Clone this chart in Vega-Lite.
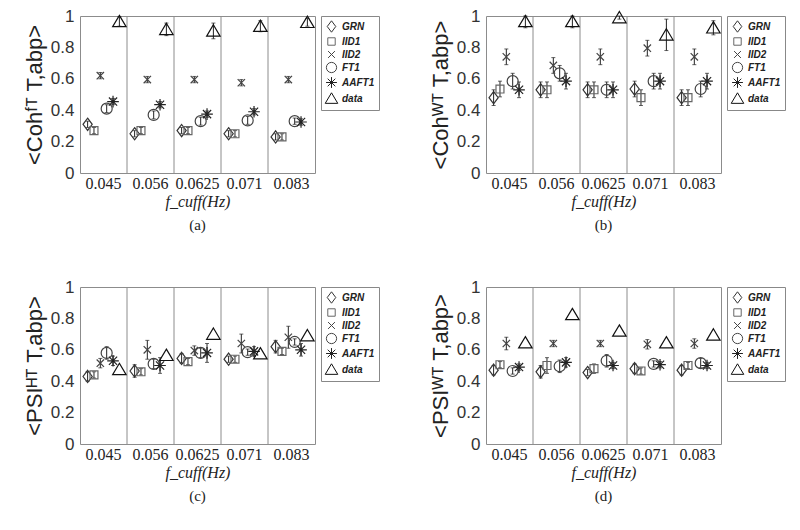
{
"$schema":"https://vega.github.io/schema/vega-lite/v6.json",
"padding":{"left":22,"top":6,"right":5,"bottom":5},
"datasets":{"pts":[
{"p":"a","f":"0.045","s":"GRN","v":0.31,"lo":0.29,"hi":0.33},
{"p":"a","f":"0.045","s":"IID1","v":0.27,"lo":0.25,"hi":0.29},
{"p":"a","f":"0.045","s":"IID2","v":0.62,"lo":0.6,"hi":0.64},
{"p":"a","f":"0.045","s":"FT1","v":0.41,"lo":0.385,"hi":0.435},
{"p":"a","f":"0.045","s":"AAFT1","v":0.455,"lo":0.435,"hi":0.475},
{"p":"a","f":"0.045","s":"data","v":0.965,"lo":0.935,"hi":0.995},
{"p":"a","f":"0.056","s":"GRN","v":0.25,"lo":0.23,"hi":0.27},
{"p":"a","f":"0.056","s":"IID1","v":0.27,"lo":0.25,"hi":0.29},
{"p":"a","f":"0.056","s":"IID2","v":0.595,"lo":0.575,"hi":0.615},
{"p":"a","f":"0.056","s":"FT1","v":0.37,"lo":0.345,"hi":0.395},
{"p":"a","f":"0.056","s":"AAFT1","v":0.435,"lo":0.415,"hi":0.455},
{"p":"a","f":"0.056","s":"data","v":0.915,"lo":0.875,"hi":0.955},
{"p":"a","f":"0.0625","s":"GRN","v":0.27,"lo":0.25,"hi":0.29},
{"p":"a","f":"0.0625","s":"IID1","v":0.27,"lo":0.25,"hi":0.29},
{"p":"a","f":"0.0625","s":"IID2","v":0.595,"lo":0.575,"hi":0.615},
{"p":"a","f":"0.0625","s":"FT1","v":0.33,"lo":0.305,"hi":0.355},
{"p":"a","f":"0.0625","s":"AAFT1","v":0.375,"lo":0.355,"hi":0.395},
{"p":"a","f":"0.0625","s":"data","v":0.905,"lo":0.855,"hi":0.955},
{"p":"a","f":"0.071","s":"GRN","v":0.25,"lo":0.23,"hi":0.27},
{"p":"a","f":"0.071","s":"IID1","v":0.25,"lo":0.23,"hi":0.27},
{"p":"a","f":"0.071","s":"IID2","v":0.575,"lo":0.555,"hi":0.595},
{"p":"a","f":"0.071","s":"FT1","v":0.335,"lo":0.31,"hi":0.36},
{"p":"a","f":"0.071","s":"AAFT1","v":0.39,"lo":0.37,"hi":0.41},
{"p":"a","f":"0.071","s":"data","v":0.935,"lo":0.9,"hi":0.97},
{"p":"a","f":"0.083","s":"GRN","v":0.23,"lo":0.21,"hi":0.25},
{"p":"a","f":"0.083","s":"IID1","v":0.23,"lo":0.21,"hi":0.25},
{"p":"a","f":"0.083","s":"IID2","v":0.595,"lo":0.575,"hi":0.615},
{"p":"a","f":"0.083","s":"FT1","v":0.33,"lo":0.31,"hi":0.35},
{"p":"a","f":"0.083","s":"AAFT1","v":0.325,"lo":0.305,"hi":0.345},
{"p":"a","f":"0.083","s":"data","v":0.96,"lo":0.935,"hi":0.985},
{"p":"b","f":"0.045","s":"GRN","v":0.48,"lo":0.43,"hi":0.53},
{"p":"b","f":"0.045","s":"IID1","v":0.535,"lo":0.485,"hi":0.585},
{"p":"b","f":"0.045","s":"IID2","v":0.74,"lo":0.69,"hi":0.79},
{"p":"b","f":"0.045","s":"FT1","v":0.585,"lo":0.535,"hi":0.635},
{"p":"b","f":"0.045","s":"AAFT1","v":0.53,"lo":0.48,"hi":0.58},
{"p":"b","f":"0.045","s":"data","v":0.965,"lo":0.925,"hi":1.0},
{"p":"b","f":"0.056","s":"GRN","v":0.53,"lo":0.48,"hi":0.58},
{"p":"b","f":"0.056","s":"IID1","v":0.53,"lo":0.48,"hi":0.58},
{"p":"b","f":"0.056","s":"IID2","v":0.685,"lo":0.635,"hi":0.735},
{"p":"b","f":"0.056","s":"FT1","v":0.635,"lo":0.585,"hi":0.685},
{"p":"b","f":"0.056","s":"AAFT1","v":0.585,"lo":0.535,"hi":0.635},
{"p":"b","f":"0.056","s":"data","v":0.965,"lo":0.925,"hi":1.0},
{"p":"b","f":"0.0625","s":"GRN","v":0.53,"lo":0.48,"hi":0.58},
{"p":"b","f":"0.0625","s":"IID1","v":0.53,"lo":0.48,"hi":0.58},
{"p":"b","f":"0.0625","s":"IID2","v":0.74,"lo":0.69,"hi":0.79},
{"p":"b","f":"0.0625","s":"FT1","v":0.53,"lo":0.48,"hi":0.58},
{"p":"b","f":"0.0625","s":"AAFT1","v":0.53,"lo":0.48,"hi":0.58},
{"p":"b","f":"0.0625","s":"data","v":0.99,"lo":0.98,"hi":1.0},
{"p":"b","f":"0.071","s":"GRN","v":0.535,"lo":0.485,"hi":0.585},
{"p":"b","f":"0.071","s":"IID1","v":0.48,"lo":0.43,"hi":0.53},
{"p":"b","f":"0.071","s":"IID2","v":0.795,"lo":0.745,"hi":0.845},
{"p":"b","f":"0.071","s":"FT1","v":0.585,"lo":0.535,"hi":0.635},
{"p":"b","f":"0.071","s":"AAFT1","v":0.585,"lo":0.535,"hi":0.635},
{"p":"b","f":"0.071","s":"data","v":0.88,"lo":0.78,"hi":0.98},
{"p":"b","f":"0.083","s":"GRN","v":0.48,"lo":0.43,"hi":0.53},
{"p":"b","f":"0.083","s":"IID1","v":0.48,"lo":0.43,"hi":0.53},
{"p":"b","f":"0.083","s":"IID2","v":0.74,"lo":0.69,"hi":0.79},
{"p":"b","f":"0.083","s":"FT1","v":0.535,"lo":0.485,"hi":0.585},
{"p":"b","f":"0.083","s":"AAFT1","v":0.585,"lo":0.535,"hi":0.635},
{"p":"b","f":"0.083","s":"data","v":0.925,"lo":0.88,"hi":0.97},
{"p":"c","f":"0.045","s":"GRN","v":0.43,"lo":0.4,"hi":0.46},
{"p":"c","f":"0.045","s":"IID1","v":0.44,"lo":0.42,"hi":0.46},
{"p":"c","f":"0.045","s":"IID2","v":0.515,"lo":0.485,"hi":0.545},
{"p":"c","f":"0.045","s":"FT1","v":0.58,"lo":0.54,"hi":0.62},
{"p":"c","f":"0.045","s":"AAFT1","v":0.53,"lo":0.5,"hi":0.56},
{"p":"c","f":"0.045","s":"data","v":0.475,"lo":0.475,"hi":0.475},
{"p":"c","f":"0.056","s":"GRN","v":0.465,"lo":0.425,"hi":0.505},
{"p":"c","f":"0.056","s":"IID1","v":0.46,"lo":0.44,"hi":0.48},
{"p":"c","f":"0.056","s":"IID2","v":0.6,"lo":0.54,"hi":0.66},
{"p":"c","f":"0.056","s":"FT1","v":0.51,"lo":0.48,"hi":0.54},
{"p":"c","f":"0.056","s":"AAFT1","v":0.5,"lo":0.45,"hi":0.55},
{"p":"c","f":"0.056","s":"data","v":0.565,"lo":0.565,"hi":0.565},
{"p":"c","f":"0.0625","s":"GRN","v":0.545,"lo":0.515,"hi":0.575},
{"p":"c","f":"0.0625","s":"IID1","v":0.525,"lo":0.505,"hi":0.545},
{"p":"c","f":"0.0625","s":"IID2","v":0.595,"lo":0.565,"hi":0.625},
{"p":"c","f":"0.0625","s":"FT1","v":0.58,"lo":0.55,"hi":0.61},
{"p":"c","f":"0.0625","s":"AAFT1","v":0.58,"lo":0.52,"hi":0.64},
{"p":"c","f":"0.0625","s":"data","v":0.7,"lo":0.7,"hi":0.7},
{"p":"c","f":"0.071","s":"GRN","v":0.54,"lo":0.52,"hi":0.56},
{"p":"c","f":"0.071","s":"IID1","v":0.54,"lo":0.52,"hi":0.56},
{"p":"c","f":"0.071","s":"IID2","v":0.64,"lo":0.58,"hi":0.7},
{"p":"c","f":"0.071","s":"FT1","v":0.585,"lo":0.565,"hi":0.605},
{"p":"c","f":"0.071","s":"AAFT1","v":0.59,"lo":0.56,"hi":0.62},
{"p":"c","f":"0.071","s":"data","v":0.575,"lo":0.575,"hi":0.575},
{"p":"c","f":"0.083","s":"GRN","v":0.62,"lo":0.58,"hi":0.66},
{"p":"c","f":"0.083","s":"IID1","v":0.59,"lo":0.57,"hi":0.61},
{"p":"c","f":"0.083","s":"IID2","v":0.68,"lo":0.61,"hi":0.75},
{"p":"c","f":"0.083","s":"FT1","v":0.65,"lo":0.63,"hi":0.67},
{"p":"c","f":"0.083","s":"AAFT1","v":0.6,"lo":0.56,"hi":0.64},
{"p":"c","f":"0.083","s":"data","v":0.69,"lo":0.69,"hi":0.69},
{"p":"d","f":"0.045","s":"GRN","v":0.47,"lo":0.44,"hi":0.5},
{"p":"d","f":"0.045","s":"IID1","v":0.505,"lo":0.485,"hi":0.525},
{"p":"d","f":"0.045","s":"IID2","v":0.64,"lo":0.6,"hi":0.68},
{"p":"d","f":"0.045","s":"FT1","v":0.465,"lo":0.445,"hi":0.485},
{"p":"d","f":"0.045","s":"AAFT1","v":0.49,"lo":0.47,"hi":0.51},
{"p":"d","f":"0.045","s":"data","v":0.645,"lo":0.645,"hi":0.645},
{"p":"d","f":"0.056","s":"GRN","v":0.46,"lo":0.42,"hi":0.5},
{"p":"d","f":"0.056","s":"IID1","v":0.5,"lo":0.45,"hi":0.55},
{"p":"d","f":"0.056","s":"IID2","v":0.64,"lo":0.62,"hi":0.66},
{"p":"d","f":"0.056","s":"FT1","v":0.495,"lo":0.455,"hi":0.535},
{"p":"d","f":"0.056","s":"AAFT1","v":0.52,"lo":0.49,"hi":0.55},
{"p":"d","f":"0.056","s":"data","v":0.825,"lo":0.825,"hi":0.825},
{"p":"d","f":"0.0625","s":"GRN","v":0.455,"lo":0.435,"hi":0.475},
{"p":"d","f":"0.0625","s":"IID1","v":0.48,"lo":0.45,"hi":0.51},
{"p":"d","f":"0.0625","s":"IID2","v":0.64,"lo":0.62,"hi":0.66},
{"p":"d","f":"0.0625","s":"FT1","v":0.53,"lo":0.49,"hi":0.57},
{"p":"d","f":"0.0625","s":"AAFT1","v":0.5,"lo":0.48,"hi":0.52},
{"p":"d","f":"0.0625","s":"data","v":0.72,"lo":0.72,"hi":0.72},
{"p":"d","f":"0.071","s":"GRN","v":0.48,"lo":0.45,"hi":0.51},
{"p":"d","f":"0.071","s":"IID1","v":0.465,"lo":0.445,"hi":0.485},
{"p":"d","f":"0.071","s":"IID2","v":0.635,"lo":0.605,"hi":0.665},
{"p":"d","f":"0.071","s":"FT1","v":0.51,"lo":0.49,"hi":0.53},
{"p":"d","f":"0.071","s":"AAFT1","v":0.505,"lo":0.485,"hi":0.525},
{"p":"d","f":"0.071","s":"data","v":0.645,"lo":0.645,"hi":0.645},
{"p":"d","f":"0.083","s":"GRN","v":0.47,"lo":0.44,"hi":0.5},
{"p":"d","f":"0.083","s":"IID1","v":0.5,"lo":0.48,"hi":0.52},
{"p":"d","f":"0.083","s":"IID2","v":0.64,"lo":0.61,"hi":0.67},
{"p":"d","f":"0.083","s":"FT1","v":0.515,"lo":0.485,"hi":0.545},
{"p":"d","f":"0.083","s":"AAFT1","v":0.5,"lo":0.48,"hi":0.52},
{"p":"d","f":"0.083","s":"data","v":0.695,"lo":0.695,"hi":0.695}
]},
"config":{
"view":{"stroke":"#8c8c8c","strokeWidth":1},
"axis":{"grid":false,"domain":false,"ticks":false},
"axisY":{"labelFont":"Liberation Sans","labelFontSize":17,"labelColor":"#333","titleFont":"Liberation Sans","titleFontSize":22,"titleFontWeight":"normal","titleColor":"#222","labelPadding":6,"titlePadding":4},
"legend":{"orient":"right","offset":6,"padding":4,"rowPadding":0,"strokeColor":"#888","symbolSize":130,"symbolStrokeWidth":1,"labelFont":"Liberation Sans","labelFontSize":10,"labelFontStyle":"italic","labelFontWeight":"bold","labelColor":"#222","labelOffset":4},
"title":{"font":"Liberation Serif","fontSize":15,"fontWeight":"normal","orient":"bottom","anchor":"middle","frame":"group","offset":9,"color":"#222"}
},
"resolve":{"scale":{"x":"independent","y":"independent","xOffset":"independent","color":"independent","shape":"independent"}},
"spacing":43,
"vconcat":[
{"hconcat":[
{"width":235,"height":157,"title":"(a)","data":{"name":"pts"},"transform":[{"filter":"datum.p==='a'"}],
"layer":[
{"transform":[{"filter":"datum.s==='GRN' && datum.f!=='0.045'"}],"mark":{"type":"rule","color":"#8c8c8c","strokeWidth":1},
"encoding":{"x":{"field":"f","type":"nominal","bandPosition":0,"sort":["0.045","0.056","0.0625","0.071","0.083"],"scale":{"paddingInner":0,"paddingOuter":0},"axis":{"title":"f_cuff(Hz)","labelFont":"Liberation Serif, DejaVu Serif","labelFontSize":16,"labelColor":"#222","labelPadding":2,"labelAngle":0,"titleFont":"Liberation Serif, DejaVu Serif","titleFontStyle":"italic","titleFontSize":16,"titleFontWeight":"normal","titleColor":"#222","titlePadding":2}}}},
{"mark":{"type":"rule","color":"#222","strokeWidth":1},
"encoding":{"x":{"field":"f","type":"nominal","sort":["0.045","0.056","0.0625","0.071","0.083"],"scale":{"paddingInner":0,"paddingOuter":0},"axis":{"title":"f_cuff(Hz)","labelFont":"Liberation Serif, DejaVu Serif","labelFontSize":16,"labelColor":"#222","labelPadding":2,"labelAngle":0,"titleFont":"Liberation Serif, DejaVu Serif","titleFontStyle":"italic","titleFontSize":16,"titleFontWeight":"normal","titleColor":"#222","titlePadding":2}},
"xOffset":{"field":"s","type":"nominal","sort":["GRN","IID1","IID2","FT1","AAFT1","data"],"scale":{"paddingInner":0,"paddingOuter":0.7}},
"y":{"field":"lo","type":"quantitative","scale":{"domain":[0,1]},"axis":{"values":[0,0.2,0.4,0.6,0.8,1],"format":"~g"},"title":"<Cohᶠᵀ T,abp>"},"y2":{"field":"hi"}}},
{"transform":[{"filter":"datum.hi>datum.lo"}],"mark":{"type":"tick","color":"#222","size":4,"thickness":1},
"encoding":{"x":{"field":"f","type":"nominal","sort":["0.045","0.056","0.0625","0.071","0.083"],"scale":{"paddingInner":0,"paddingOuter":0},"axis":{"title":"f_cuff(Hz)","labelFont":"Liberation Serif, DejaVu Serif","labelFontSize":16,"labelColor":"#222","labelPadding":2,"labelAngle":0,"titleFont":"Liberation Serif, DejaVu Serif","titleFontStyle":"italic","titleFontSize":16,"titleFontWeight":"normal","titleColor":"#222","titlePadding":2}},
"xOffset":{"field":"s","type":"nominal","sort":["GRN","IID1","IID2","FT1","AAFT1","data"],"scale":{"paddingInner":0,"paddingOuter":0.7}},
"y":{"field":"lo","type":"quantitative","scale":{"domain":[0,1]},"axis":{"values":[0,0.2,0.4,0.6,0.8,1],"format":"~g"},"title":"<Cohᶠᵀ T,abp>"}}},
{"transform":[{"filter":"datum.hi>datum.lo"}],"mark":{"type":"tick","color":"#222","size":4,"thickness":1},
"encoding":{"x":{"field":"f","type":"nominal","sort":["0.045","0.056","0.0625","0.071","0.083"],"scale":{"paddingInner":0,"paddingOuter":0},"axis":{"title":"f_cuff(Hz)","labelFont":"Liberation Serif, DejaVu Serif","labelFontSize":16,"labelColor":"#222","labelPadding":2,"labelAngle":0,"titleFont":"Liberation Serif, DejaVu Serif","titleFontStyle":"italic","titleFontSize":16,"titleFontWeight":"normal","titleColor":"#222","titlePadding":2}},
"xOffset":{"field":"s","type":"nominal","sort":["GRN","IID1","IID2","FT1","AAFT1","data"],"scale":{"paddingInner":0,"paddingOuter":0.7}},
"y":{"field":"hi","type":"quantitative","scale":{"domain":[0,1]},"axis":{"values":[0,0.2,0.4,0.6,0.8,1],"format":"~g"},"title":"<Cohᶠᵀ T,abp>"}}},
{"mark":{"type":"point","filled":false,"strokeWidth":1.2,"opacity":1,"size":150},
"encoding":{"x":{"field":"f","type":"nominal","sort":["0.045","0.056","0.0625","0.071","0.083"],"scale":{"paddingInner":0,"paddingOuter":0},"axis":{"title":"f_cuff(Hz)","labelFont":"Liberation Serif, DejaVu Serif","labelFontSize":16,"labelColor":"#222","labelPadding":2,"labelAngle":0,"titleFont":"Liberation Serif, DejaVu Serif","titleFontStyle":"italic","titleFontSize":16,"titleFontWeight":"normal","titleColor":"#222","titlePadding":2}},
"xOffset":{"field":"s","type":"nominal","sort":["GRN","IID1","IID2","FT1","AAFT1","data"],"scale":{"paddingInner":0,"paddingOuter":0.7}},
"y":{"field":"v","type":"quantitative","scale":{"domain":[0,1]},"axis":{"values":[0,0.2,0.4,0.6,0.8,1],"format":"~g"},"title":"<Cohᶠᵀ T,abp>"},
"shape":{"field":"s","type":"nominal","sort":["GRN","IID1","IID2","FT1","AAFT1","data"],"scale":{"domain":["GRN","IID1","IID2","FT1","AAFT1","data"],"range":["M0,-1L0.75,0L0,1L-0.75,0Z","M-0.65,-0.65H0.65V0.65H-0.65Z","M-0.6,-0.6L0.6,0.6M-0.6,0.6L0.6,-0.6","M-0.9,0A0.9,0.9,0,1,1,0.9,0A0.9,0.9,0,1,1,-0.9,0Z","M0,-0.95V0.95M-0.95,0H0.95M-0.67,-0.67L0.67,0.67M-0.67,0.67L0.67,-0.67","M0,-1L1.1,0.85L-1.1,0.85Z"]},"legend":{"title":null}},
"color":{"field":"s","type":"nominal","sort":["GRN","IID1","IID2","FT1","AAFT1","data"],"scale":{"domain":["GRN","IID1","IID2","FT1","AAFT1","data"],"range":["#333","#666","#444","#444","#222","#111"]},"legend":{"title":null}}}}
]},
{"width":235,"height":157,"title":"(b)","data":{"name":"pts"},"transform":[{"filter":"datum.p==='b'"}],
"layer":[
{"transform":[{"filter":"datum.s==='GRN' && datum.f!=='0.045'"}],"mark":{"type":"rule","color":"#8c8c8c","strokeWidth":1},
"encoding":{"x":{"field":"f","type":"nominal","bandPosition":0,"sort":["0.045","0.056","0.0625","0.071","0.083"],"scale":{"paddingInner":0,"paddingOuter":0},"axis":{"title":"f_cuff(Hz)","labelFont":"Liberation Serif, DejaVu Serif","labelFontSize":16,"labelColor":"#222","labelPadding":2,"labelAngle":0,"titleFont":"Liberation Serif, DejaVu Serif","titleFontStyle":"italic","titleFontSize":16,"titleFontWeight":"normal","titleColor":"#222","titlePadding":2}}}},
{"mark":{"type":"rule","color":"#222","strokeWidth":1},
"encoding":{"x":{"field":"f","type":"nominal","sort":["0.045","0.056","0.0625","0.071","0.083"],"scale":{"paddingInner":0,"paddingOuter":0},"axis":{"title":"f_cuff(Hz)","labelFont":"Liberation Serif, DejaVu Serif","labelFontSize":16,"labelColor":"#222","labelPadding":2,"labelAngle":0,"titleFont":"Liberation Serif, DejaVu Serif","titleFontStyle":"italic","titleFontSize":16,"titleFontWeight":"normal","titleColor":"#222","titlePadding":2}},
"xOffset":{"field":"s","type":"nominal","sort":["GRN","IID1","IID2","FT1","AAFT1","data"],"scale":{"paddingInner":0,"paddingOuter":0.7}},
"y":{"field":"lo","type":"quantitative","scale":{"domain":[0,1]},"axis":{"values":[0,0.2,0.4,0.6,0.8,1],"format":"~g"},"title":"<Cohᵂᵀ T,abp>"},"y2":{"field":"hi"}}},
{"transform":[{"filter":"datum.hi>datum.lo"}],"mark":{"type":"tick","color":"#222","size":4,"thickness":1},
"encoding":{"x":{"field":"f","type":"nominal","sort":["0.045","0.056","0.0625","0.071","0.083"],"scale":{"paddingInner":0,"paddingOuter":0},"axis":{"title":"f_cuff(Hz)","labelFont":"Liberation Serif, DejaVu Serif","labelFontSize":16,"labelColor":"#222","labelPadding":2,"labelAngle":0,"titleFont":"Liberation Serif, DejaVu Serif","titleFontStyle":"italic","titleFontSize":16,"titleFontWeight":"normal","titleColor":"#222","titlePadding":2}},
"xOffset":{"field":"s","type":"nominal","sort":["GRN","IID1","IID2","FT1","AAFT1","data"],"scale":{"paddingInner":0,"paddingOuter":0.7}},
"y":{"field":"lo","type":"quantitative","scale":{"domain":[0,1]},"axis":{"values":[0,0.2,0.4,0.6,0.8,1],"format":"~g"},"title":"<Cohᵂᵀ T,abp>"}}},
{"transform":[{"filter":"datum.hi>datum.lo"}],"mark":{"type":"tick","color":"#222","size":4,"thickness":1},
"encoding":{"x":{"field":"f","type":"nominal","sort":["0.045","0.056","0.0625","0.071","0.083"],"scale":{"paddingInner":0,"paddingOuter":0},"axis":{"title":"f_cuff(Hz)","labelFont":"Liberation Serif, DejaVu Serif","labelFontSize":16,"labelColor":"#222","labelPadding":2,"labelAngle":0,"titleFont":"Liberation Serif, DejaVu Serif","titleFontStyle":"italic","titleFontSize":16,"titleFontWeight":"normal","titleColor":"#222","titlePadding":2}},
"xOffset":{"field":"s","type":"nominal","sort":["GRN","IID1","IID2","FT1","AAFT1","data"],"scale":{"paddingInner":0,"paddingOuter":0.7}},
"y":{"field":"hi","type":"quantitative","scale":{"domain":[0,1]},"axis":{"values":[0,0.2,0.4,0.6,0.8,1],"format":"~g"},"title":"<Cohᵂᵀ T,abp>"}}},
{"mark":{"type":"point","filled":false,"strokeWidth":1.2,"opacity":1,"size":150},
"encoding":{"x":{"field":"f","type":"nominal","sort":["0.045","0.056","0.0625","0.071","0.083"],"scale":{"paddingInner":0,"paddingOuter":0},"axis":{"title":"f_cuff(Hz)","labelFont":"Liberation Serif, DejaVu Serif","labelFontSize":16,"labelColor":"#222","labelPadding":2,"labelAngle":0,"titleFont":"Liberation Serif, DejaVu Serif","titleFontStyle":"italic","titleFontSize":16,"titleFontWeight":"normal","titleColor":"#222","titlePadding":2}},
"xOffset":{"field":"s","type":"nominal","sort":["GRN","IID1","IID2","FT1","AAFT1","data"],"scale":{"paddingInner":0,"paddingOuter":0.7}},
"y":{"field":"v","type":"quantitative","scale":{"domain":[0,1]},"axis":{"values":[0,0.2,0.4,0.6,0.8,1],"format":"~g"},"title":"<Cohᵂᵀ T,abp>"},
"shape":{"field":"s","type":"nominal","sort":["GRN","IID1","IID2","FT1","AAFT1","data"],"scale":{"domain":["GRN","IID1","IID2","FT1","AAFT1","data"],"range":["M0,-1L0.75,0L0,1L-0.75,0Z","M-0.65,-0.65H0.65V0.65H-0.65Z","M-0.6,-0.6L0.6,0.6M-0.6,0.6L0.6,-0.6","M-0.9,0A0.9,0.9,0,1,1,0.9,0A0.9,0.9,0,1,1,-0.9,0Z","M0,-0.95V0.95M-0.95,0H0.95M-0.67,-0.67L0.67,0.67M-0.67,0.67L0.67,-0.67","M0,-1L1.1,0.85L-1.1,0.85Z"]},"legend":{"title":null}},
"color":{"field":"s","type":"nominal","sort":["GRN","IID1","IID2","FT1","AAFT1","data"],"scale":{"domain":["GRN","IID1","IID2","FT1","AAFT1","data"],"range":["#333","#666","#444","#444","#222","#111"]},"legend":{"title":null}}}}
]}
],"spacing":48,"resolve":{"scale":{"x":"independent","y":"independent","xOffset":"independent","color":"independent","shape":"independent"}}},
{"hconcat":[
{"width":235,"height":157,"title":"(c)","data":{"name":"pts"},"transform":[{"filter":"datum.p==='c'"}],
"layer":[
{"transform":[{"filter":"datum.s==='GRN' && datum.f!=='0.045'"}],"mark":{"type":"rule","color":"#8c8c8c","strokeWidth":1},
"encoding":{"x":{"field":"f","type":"nominal","bandPosition":0,"sort":["0.045","0.056","0.0625","0.071","0.083"],"scale":{"paddingInner":0,"paddingOuter":0},"axis":{"title":"f_cuff(Hz)","labelFont":"Liberation Serif, DejaVu Serif","labelFontSize":16,"labelColor":"#222","labelPadding":2,"labelAngle":0,"titleFont":"Liberation Serif, DejaVu Serif","titleFontStyle":"italic","titleFontSize":16,"titleFontWeight":"normal","titleColor":"#222","titlePadding":2}}}},
{"mark":{"type":"rule","color":"#222","strokeWidth":1},
"encoding":{"x":{"field":"f","type":"nominal","sort":["0.045","0.056","0.0625","0.071","0.083"],"scale":{"paddingInner":0,"paddingOuter":0},"axis":{"title":"f_cuff(Hz)","labelFont":"Liberation Serif, DejaVu Serif","labelFontSize":16,"labelColor":"#222","labelPadding":2,"labelAngle":0,"titleFont":"Liberation Serif, DejaVu Serif","titleFontStyle":"italic","titleFontSize":16,"titleFontWeight":"normal","titleColor":"#222","titlePadding":2}},
"xOffset":{"field":"s","type":"nominal","sort":["GRN","IID1","IID2","FT1","AAFT1","data"],"scale":{"paddingInner":0,"paddingOuter":0.7}},
"y":{"field":"lo","type":"quantitative","scale":{"domain":[0,1]},"axis":{"values":[0,0.2,0.4,0.6,0.8,1],"format":"~g"},"title":"<PSIᴴᵀ T,abp>"},"y2":{"field":"hi"}}},
{"transform":[{"filter":"datum.hi>datum.lo"}],"mark":{"type":"tick","color":"#222","size":4,"thickness":1},
"encoding":{"x":{"field":"f","type":"nominal","sort":["0.045","0.056","0.0625","0.071","0.083"],"scale":{"paddingInner":0,"paddingOuter":0},"axis":{"title":"f_cuff(Hz)","labelFont":"Liberation Serif, DejaVu Serif","labelFontSize":16,"labelColor":"#222","labelPadding":2,"labelAngle":0,"titleFont":"Liberation Serif, DejaVu Serif","titleFontStyle":"italic","titleFontSize":16,"titleFontWeight":"normal","titleColor":"#222","titlePadding":2}},
"xOffset":{"field":"s","type":"nominal","sort":["GRN","IID1","IID2","FT1","AAFT1","data"],"scale":{"paddingInner":0,"paddingOuter":0.7}},
"y":{"field":"lo","type":"quantitative","scale":{"domain":[0,1]},"axis":{"values":[0,0.2,0.4,0.6,0.8,1],"format":"~g"},"title":"<PSIᴴᵀ T,abp>"}}},
{"transform":[{"filter":"datum.hi>datum.lo"}],"mark":{"type":"tick","color":"#222","size":4,"thickness":1},
"encoding":{"x":{"field":"f","type":"nominal","sort":["0.045","0.056","0.0625","0.071","0.083"],"scale":{"paddingInner":0,"paddingOuter":0},"axis":{"title":"f_cuff(Hz)","labelFont":"Liberation Serif, DejaVu Serif","labelFontSize":16,"labelColor":"#222","labelPadding":2,"labelAngle":0,"titleFont":"Liberation Serif, DejaVu Serif","titleFontStyle":"italic","titleFontSize":16,"titleFontWeight":"normal","titleColor":"#222","titlePadding":2}},
"xOffset":{"field":"s","type":"nominal","sort":["GRN","IID1","IID2","FT1","AAFT1","data"],"scale":{"paddingInner":0,"paddingOuter":0.7}},
"y":{"field":"hi","type":"quantitative","scale":{"domain":[0,1]},"axis":{"values":[0,0.2,0.4,0.6,0.8,1],"format":"~g"},"title":"<PSIᴴᵀ T,abp>"}}},
{"mark":{"type":"point","filled":false,"strokeWidth":1.2,"opacity":1,"size":150},
"encoding":{"x":{"field":"f","type":"nominal","sort":["0.045","0.056","0.0625","0.071","0.083"],"scale":{"paddingInner":0,"paddingOuter":0},"axis":{"title":"f_cuff(Hz)","labelFont":"Liberation Serif, DejaVu Serif","labelFontSize":16,"labelColor":"#222","labelPadding":2,"labelAngle":0,"titleFont":"Liberation Serif, DejaVu Serif","titleFontStyle":"italic","titleFontSize":16,"titleFontWeight":"normal","titleColor":"#222","titlePadding":2}},
"xOffset":{"field":"s","type":"nominal","sort":["GRN","IID1","IID2","FT1","AAFT1","data"],"scale":{"paddingInner":0,"paddingOuter":0.7}},
"y":{"field":"v","type":"quantitative","scale":{"domain":[0,1]},"axis":{"values":[0,0.2,0.4,0.6,0.8,1],"format":"~g"},"title":"<PSIᴴᵀ T,abp>"},
"shape":{"field":"s","type":"nominal","sort":["GRN","IID1","IID2","FT1","AAFT1","data"],"scale":{"domain":["GRN","IID1","IID2","FT1","AAFT1","data"],"range":["M0,-1L0.75,0L0,1L-0.75,0Z","M-0.65,-0.65H0.65V0.65H-0.65Z","M-0.6,-0.6L0.6,0.6M-0.6,0.6L0.6,-0.6","M-0.9,0A0.9,0.9,0,1,1,0.9,0A0.9,0.9,0,1,1,-0.9,0Z","M0,-0.95V0.95M-0.95,0H0.95M-0.67,-0.67L0.67,0.67M-0.67,0.67L0.67,-0.67","M0,-1L1.1,0.85L-1.1,0.85Z"]},"legend":{"title":null}},
"color":{"field":"s","type":"nominal","sort":["GRN","IID1","IID2","FT1","AAFT1","data"],"scale":{"domain":["GRN","IID1","IID2","FT1","AAFT1","data"],"range":["#333","#666","#444","#444","#222","#111"]},"legend":{"title":null}}}}
]},
{"width":235,"height":157,"title":"(d)","data":{"name":"pts"},"transform":[{"filter":"datum.p==='d'"}],
"layer":[
{"transform":[{"filter":"datum.s==='GRN' && datum.f!=='0.045'"}],"mark":{"type":"rule","color":"#8c8c8c","strokeWidth":1},
"encoding":{"x":{"field":"f","type":"nominal","bandPosition":0,"sort":["0.045","0.056","0.0625","0.071","0.083"],"scale":{"paddingInner":0,"paddingOuter":0},"axis":{"title":"f_cuff(Hz)","labelFont":"Liberation Serif, DejaVu Serif","labelFontSize":16,"labelColor":"#222","labelPadding":2,"labelAngle":0,"titleFont":"Liberation Serif, DejaVu Serif","titleFontStyle":"italic","titleFontSize":16,"titleFontWeight":"normal","titleColor":"#222","titlePadding":2}}}},
{"mark":{"type":"rule","color":"#222","strokeWidth":1},
"encoding":{"x":{"field":"f","type":"nominal","sort":["0.045","0.056","0.0625","0.071","0.083"],"scale":{"paddingInner":0,"paddingOuter":0},"axis":{"title":"f_cuff(Hz)","labelFont":"Liberation Serif, DejaVu Serif","labelFontSize":16,"labelColor":"#222","labelPadding":2,"labelAngle":0,"titleFont":"Liberation Serif, DejaVu Serif","titleFontStyle":"italic","titleFontSize":16,"titleFontWeight":"normal","titleColor":"#222","titlePadding":2}},
"xOffset":{"field":"s","type":"nominal","sort":["GRN","IID1","IID2","FT1","AAFT1","data"],"scale":{"paddingInner":0,"paddingOuter":0.7}},
"y":{"field":"lo","type":"quantitative","scale":{"domain":[0,1]},"axis":{"values":[0,0.2,0.4,0.6,0.8,1],"format":"~g"},"title":"<PSIᵂᵀ T,abp>"},"y2":{"field":"hi"}}},
{"transform":[{"filter":"datum.hi>datum.lo"}],"mark":{"type":"tick","color":"#222","size":4,"thickness":1},
"encoding":{"x":{"field":"f","type":"nominal","sort":["0.045","0.056","0.0625","0.071","0.083"],"scale":{"paddingInner":0,"paddingOuter":0},"axis":{"title":"f_cuff(Hz)","labelFont":"Liberation Serif, DejaVu Serif","labelFontSize":16,"labelColor":"#222","labelPadding":2,"labelAngle":0,"titleFont":"Liberation Serif, DejaVu Serif","titleFontStyle":"italic","titleFontSize":16,"titleFontWeight":"normal","titleColor":"#222","titlePadding":2}},
"xOffset":{"field":"s","type":"nominal","sort":["GRN","IID1","IID2","FT1","AAFT1","data"],"scale":{"paddingInner":0,"paddingOuter":0.7}},
"y":{"field":"lo","type":"quantitative","scale":{"domain":[0,1]},"axis":{"values":[0,0.2,0.4,0.6,0.8,1],"format":"~g"},"title":"<PSIᵂᵀ T,abp>"}}},
{"transform":[{"filter":"datum.hi>datum.lo"}],"mark":{"type":"tick","color":"#222","size":4,"thickness":1},
"encoding":{"x":{"field":"f","type":"nominal","sort":["0.045","0.056","0.0625","0.071","0.083"],"scale":{"paddingInner":0,"paddingOuter":0},"axis":{"title":"f_cuff(Hz)","labelFont":"Liberation Serif, DejaVu Serif","labelFontSize":16,"labelColor":"#222","labelPadding":2,"labelAngle":0,"titleFont":"Liberation Serif, DejaVu Serif","titleFontStyle":"italic","titleFontSize":16,"titleFontWeight":"normal","titleColor":"#222","titlePadding":2}},
"xOffset":{"field":"s","type":"nominal","sort":["GRN","IID1","IID2","FT1","AAFT1","data"],"scale":{"paddingInner":0,"paddingOuter":0.7}},
"y":{"field":"hi","type":"quantitative","scale":{"domain":[0,1]},"axis":{"values":[0,0.2,0.4,0.6,0.8,1],"format":"~g"},"title":"<PSIᵂᵀ T,abp>"}}},
{"mark":{"type":"point","filled":false,"strokeWidth":1.2,"opacity":1,"size":150},
"encoding":{"x":{"field":"f","type":"nominal","sort":["0.045","0.056","0.0625","0.071","0.083"],"scale":{"paddingInner":0,"paddingOuter":0},"axis":{"title":"f_cuff(Hz)","labelFont":"Liberation Serif, DejaVu Serif","labelFontSize":16,"labelColor":"#222","labelPadding":2,"labelAngle":0,"titleFont":"Liberation Serif, DejaVu Serif","titleFontStyle":"italic","titleFontSize":16,"titleFontWeight":"normal","titleColor":"#222","titlePadding":2}},
"xOffset":{"field":"s","type":"nominal","sort":["GRN","IID1","IID2","FT1","AAFT1","data"],"scale":{"paddingInner":0,"paddingOuter":0.7}},
"y":{"field":"v","type":"quantitative","scale":{"domain":[0,1]},"axis":{"values":[0,0.2,0.4,0.6,0.8,1],"format":"~g"},"title":"<PSIᵂᵀ T,abp>"},
"shape":{"field":"s","type":"nominal","sort":["GRN","IID1","IID2","FT1","AAFT1","data"],"scale":{"domain":["GRN","IID1","IID2","FT1","AAFT1","data"],"range":["M0,-1L0.75,0L0,1L-0.75,0Z","M-0.65,-0.65H0.65V0.65H-0.65Z","M-0.6,-0.6L0.6,0.6M-0.6,0.6L0.6,-0.6","M-0.9,0A0.9,0.9,0,1,1,0.9,0A0.9,0.9,0,1,1,-0.9,0Z","M0,-0.95V0.95M-0.95,0H0.95M-0.67,-0.67L0.67,0.67M-0.67,0.67L0.67,-0.67","M0,-1L1.1,0.85L-1.1,0.85Z"]},"legend":{"title":null}},
"color":{"field":"s","type":"nominal","sort":["GRN","IID1","IID2","FT1","AAFT1","data"],"scale":{"domain":["GRN","IID1","IID2","FT1","AAFT1","data"],"range":["#333","#666","#444","#444","#222","#111"]},"legend":{"title":null}}}}
]}
],"spacing":48,"resolve":{"scale":{"x":"independent","y":"independent","xOffset":"independent","color":"independent","shape":"independent"}}}
]
}
